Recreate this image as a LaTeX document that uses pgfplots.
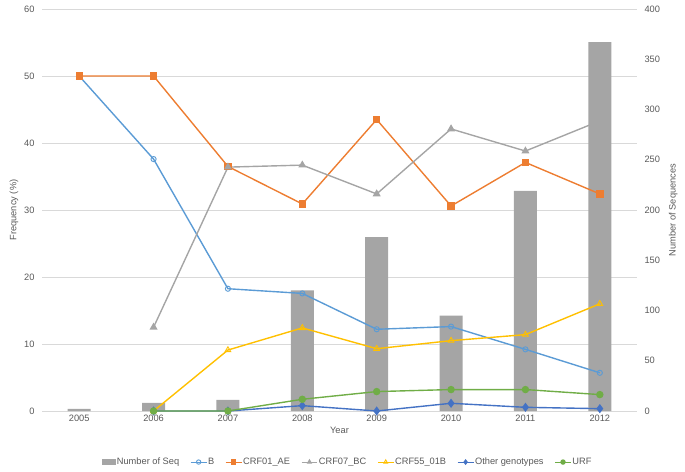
\documentclass[border=0pt]{standalone}
\usepackage{pgfplots}
\pgfplotsset{compat=1.18}
\usepackage{fontspec}
\setmainfont{Liberation Sans}
\definecolor{txt}{HTML}{595959}
\definecolor{gridc}{HTML}{D9D9D9}
\definecolor{cB}{HTML}{5B9BD5}
\definecolor{cAE}{HTML}{ED7D31}
\definecolor{cBC}{HTML}{A5A5A5}
\definecolor{c55}{HTML}{FFC000}
\definecolor{cOth}{HTML}{4472C4}
\definecolor{cURF}{HTML}{70AD47}
\definecolor{cBar}{HTML}{A5A5A5}
\pgfplotsset{
  base/.style={
    scale only axis, width=595bp, height=402bp,
    xmin=-0.5, xmax=7.5,
    font=\fontsize{9.3}{11}\selectfont,
    tick style={draw=none},
    ticklabel style={text=txt},
    label style={text=txt},
    /pgf/number format/assume math mode=true,
  }
}
\pgfplotstableread{
x seq
0 2
1 8
2 11
3 120
4 173
5 95
6 219
7 367
}\seqtab
\begin{document}
\begin{tikzpicture}
% grid + left axis + x labels
\begin{axis}[base,
  ymin=0, ymax=60, ytick={0,10,...,60},
  ymajorgrids, grid style={gridc, line width=0.8pt},
  axis line style={draw=none},
  xtick={0,...,7}, xticklabels={2005,2006,2007,2008,2009,2010,2011,2012},
  yticklabel style={xshift=-4pt},
  xticklabel style={yshift=-1pt},
  xlabel={Year}, ylabel={Frequency (\%)},
  xlabel style={yshift=2pt}, ylabel style={yshift=-1pt},
]
\addplot[draw=none] coordinates {(0,0)};
\end{axis}
% bars on right axis
\begin{axis}[base,
  ymin=0, ymax=400, ytick={0,50,...,400},
  axis y line*=right, axis x line=none,
  y axis line style={draw=none},
  yticklabel style={xshift=4pt},
  ylabel={Number of Sequences},
  ylabel style={yshift=-2pt},
]
\addplot[ybar, bar width=23bp, fill=cBar, draw=none] table[x=x,y=seq] {\seqtab};
\end{axis}
% lines
\begin{axis}[base,
  ymin=0, ymax=60, hide axis, clip=false,
  legend style={at={(0.513,-0.127)}, anchor=center, draw=none, fill=none,
    font=\fontsize{9.3}{11}\selectfont, text=txt,
    nodes={inner xsep=1pt, inner ysep=1pt},
    /tikz/every even column/.append style={column sep=10pt}},
  legend columns=-1,
  legend image code/.code={\draw[mark repeat=2,mark phase=2,#1] plot coordinates {(0pt,0pt) (8pt,0pt) (16pt,0pt)};},
  legend image post style={mark size=2.2pt, line width=1pt},
]
\addlegendimage{legend image code/.code={\fill[cBar] (0pt,-2.5pt) rectangle (13pt,2.5pt);}}
\addlegendentry{Number of Seq}
\addplot[cB, line width=1.4pt, mark=o, mark size=2.6pt, mark options={line width=0.9pt}] coordinates {
(0,50) (1,37.6) (2,18.25) (3,17.55) (4,12.2) (5,12.6) (6,9.2) (7,5.7)};
\addlegendentry{B}
\addplot[cAE, line width=1.4pt, mark=square*, mark size=3pt] coordinates {
(0,50) (1,50) (2,36.5) (3,30.9) (4,43.5) (5,30.6) (6,37.1) (7,32.4)};
\addlegendentry{CRF01\_AE}
\addplot[cBC, line width=1.4pt, mark=triangle*, mark size=3.3pt] coordinates {
(1,12.5) (2,36.4) (3,36.7) (4,32.4) (5,42.1) (6,38.8) (7,43.3)};
\addlegendentry{CRF07\_BC}
\addplot[c55, line width=1.4pt, mark=triangle, mark size=3.3pt, mark options={line width=0.9pt}] coordinates {
(1,0) (2,9.1) (3,12.4) (4,9.3) (5,10.5) (6,11.4) (7,16.0)};
\addlegendentry{CRF55\_01B}
\addplot[cOth, line width=1.4pt, mark=diamond*, mark size=3.5pt] coordinates {
(1,0) (2,0) (3,0.8) (4,0) (5,1.15) (6,0.55) (7,0.35)};
\addlegendentry{Other genotypes}
\addplot[cURF, line width=1.4pt, mark=*, mark size=3pt] coordinates {
(1,0) (2,0) (3,1.75) (4,2.9) (5,3.2) (6,3.2) (7,2.45)};
\addlegendentry{URF}
\end{axis}
\pgfresetboundingbox
\path (-42bp,-61bp) rectangle (643bp,411bp);
\end{tikzpicture}
\end{document}
